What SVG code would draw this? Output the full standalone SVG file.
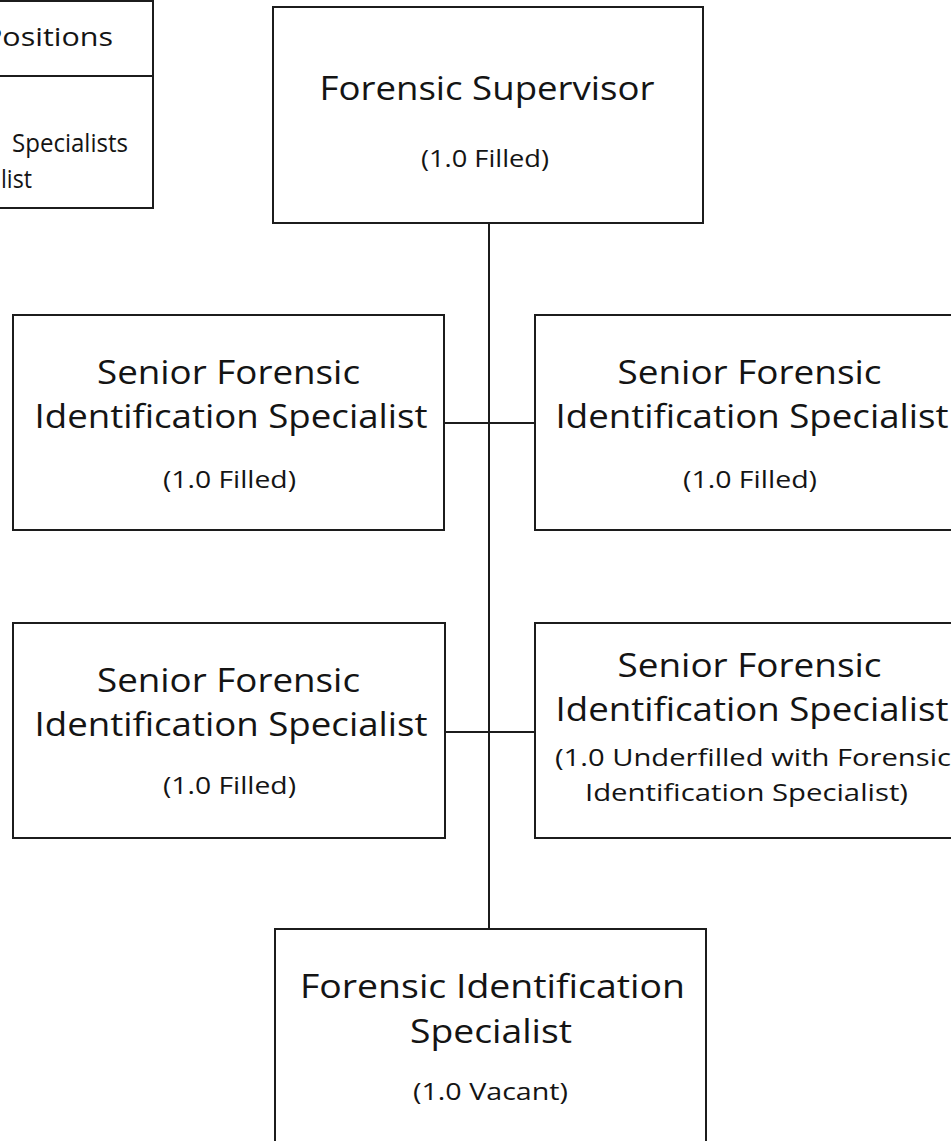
<svg xmlns="http://www.w3.org/2000/svg" width="951" height="1141" viewBox="0 0 951 1141">
<style>
.box{fill:#fff;stroke:#1c1c1c;stroke-width:2}
.t{font-family:"Open Sans","Liberation Sans",sans-serif;font-size:32px;fill:#141414;text-anchor:middle}
.s{font-family:"Open Sans","Liberation Sans",sans-serif;font-size:24.5px;fill:#141414;text-anchor:middle}
.l{font-family:"Open Sans","Liberation Sans",sans-serif;font-size:25px;fill:#141414;text-anchor:end}
.c{stroke:#1c1c1c;stroke-width:2;fill:none}
</style>
<rect width="951" height="1141" fill="#fff"/>
<g id="connectors">
<line class="c" x1="489" y1="223" x2="489" y2="929"/>
<line class="c" x1="444" y1="423" x2="535" y2="423"/>
<line class="c" x1="445" y1="732" x2="535" y2="732"/>
</g>
<g id="legend">
<rect class="box" x="-10" y="1" width="163" height="207"/>
<line class="c" x1="-10" y1="76" x2="153" y2="76"/>
<text class="l" x="113" y="46" textLength="129" lengthAdjust="spacingAndGlyphs">Positions</text>
<text class="l" x="128" y="152" textLength="116" lengthAdjust="spacingAndGlyphs">Specialists</text>
<text class="l" x="32" y="188" textLength="31" lengthAdjust="spacingAndGlyphs">list</text>
</g>
<g id="supervisor">
<rect class="box" x="273" y="7" width="430" height="216"/>
<text class="t" x="487" y="100" textLength="335" lengthAdjust="spacingAndGlyphs">Forensic Supervisor</text>
<text class="s" x="485" y="167" textLength="128" lengthAdjust="spacingAndGlyphs">(1.0 Filled)</text>
</g>
<g id="senior1">
<rect class="box" x="13" y="315" width="431" height="215"/>
<text class="t" x="228.5" y="384" textLength="263" lengthAdjust="spacingAndGlyphs">Senior Forensic</text>
<text class="t" x="231" y="428" textLength="393" lengthAdjust="spacingAndGlyphs">Identification Specialist</text>
<text class="s" x="229.5" y="488" textLength="133" lengthAdjust="spacingAndGlyphs">(1.0 Filled)</text>
</g>
<g id="senior2">
<rect class="box" x="535" y="315" width="431" height="215"/>
<text class="t" x="749.5" y="384" textLength="264" lengthAdjust="spacingAndGlyphs">Senior Forensic</text>
<text class="t" x="752" y="428" textLength="393" lengthAdjust="spacingAndGlyphs">Identification Specialist</text>
<text class="s" x="750" y="488" textLength="134" lengthAdjust="spacingAndGlyphs">(1.0 Filled)</text>
</g>
<g id="senior3">
<rect class="box" x="13" y="623" width="432" height="215"/>
<text class="t" x="228.5" y="692" textLength="263" lengthAdjust="spacingAndGlyphs">Senior Forensic</text>
<text class="t" x="231" y="736" textLength="393" lengthAdjust="spacingAndGlyphs">Identification Specialist</text>
<text class="s" x="229.5" y="794" textLength="133" lengthAdjust="spacingAndGlyphs">(1.0 Filled)</text>
</g>
<g id="senior4">
<rect class="box" x="535" y="623" width="431" height="215"/>
<text class="t" x="749.5" y="677" textLength="264" lengthAdjust="spacingAndGlyphs">Senior Forensic</text>
<text class="t" x="752" y="721" textLength="393" lengthAdjust="spacingAndGlyphs">Identification Specialist</text>
<text class="s" x="753" y="766" textLength="396" lengthAdjust="spacingAndGlyphs">(1.0 Underfilled with Forensic</text>
<text class="s" x="746.5" y="801" textLength="323" lengthAdjust="spacingAndGlyphs">Identification Specialist)</text>
</g>
<g id="fis">
<rect class="box" x="275" y="929" width="431" height="230"/>
<text class="t" x="492.5" y="998" textLength="385" lengthAdjust="spacingAndGlyphs">Forensic Identification</text>
<text class="t" x="491" y="1043" textLength="162" lengthAdjust="spacingAndGlyphs">Specialist</text>
<text class="s" x="490.5" y="1100" textLength="155" lengthAdjust="spacingAndGlyphs">(1.0 Vacant)</text>
</g>
</svg>
